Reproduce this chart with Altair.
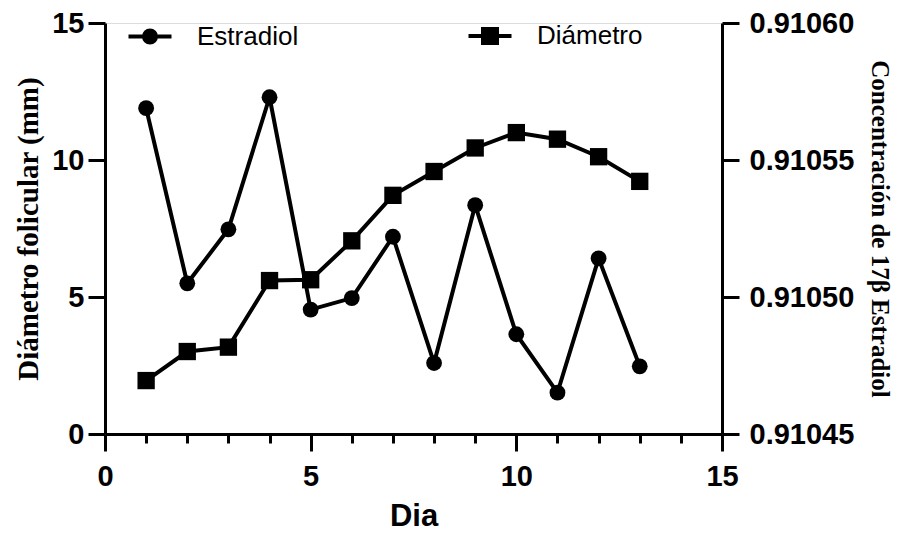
import altair as alt
import pandas as pd

dias = list(range(1, 14))
diametro = [1.95, 3.01, 3.17, 5.60, 5.63, 7.05, 8.71, 9.58, 10.44, 11.00, 10.76, 10.12, 9.22]
estradiol = [0.9105689, 0.9105050, 0.9105247, 0.9105729, 0.9104954, 0.9104996, 0.9105220,
             0.9104759, 0.9105335, 0.9104864, 0.9104651, 0.9105141, 0.9104747]
series = ["Estradiol", "Diámetro"]
x_ticks = list(range(0, 16))
left_ticks = [0, 5, 10, 15]
right_ticks = [0.91045, 0.91050, 0.91055, 0.91060]

df_d = pd.DataFrame({"dia": dias, "v": diametro})
df_e = pd.DataFrame({"dia": dias, "v": estradiol})
df_leg = pd.DataFrame({"serie": series, "dia": [0, 0], "v": [0, 0]})

SANS = "Liberation Sans"
SERIF = "Liberation Serif"

circ_path = "M-2.15,0H2.15M-0.6,0A0.6,0.6 0 1,0 0.6,0A0.6,0.6 0 1,0 -0.6,0Z"
sq_path = "M-2.15,0H2.15M-0.7,-0.7H0.7V0.7H-0.7Z"

x_axis = alt.Axis(
    values=x_ticks,
    labelExpr="datum.value % 5 === 0 ? datum.label : ''",
    tickSize={"condition": {"test": "datum.value % 5 === 0", "value": 17}, "value": 9},
    title="Dia", titleFont=SANS, titleFontSize=31, titleFontWeight="bold", titlePadding=10,
    labelFont=SANS, labelFontSize=29, labelFontWeight="bold", labelPadding=11,
    tickWidth=3, domainWidth=3, grid=False, domainColor="black", tickColor="black",
    labelColor="black", titleColor="black", labelFlush=False,
)
x_enc = alt.X("dia:Q", scale=alt.Scale(domain=[0, 15], nice=False, zero=False), axis=x_axis)

left_axis = alt.Axis(
    values=left_ticks, orient="left",
    title="Diámetro folicular (mm)", titleFont=SERIF, titleFontSize=29, titleFontWeight="bold",
    titlePadding=8, titleColor="black",
    labelFont=SANS, labelFontSize=29, labelFontWeight="bold", labelPadding=4, labelColor="black",
    tickSize=17, tickWidth=3, domainWidth=3, grid=False, domainColor="black", tickColor="black",
)
right_axis = alt.Axis(
    values=right_ticks, orient="right", format=".5f",
    title="Concentración de 17β Estradiol", titleFont=SERIF, titleFontSize=25, titleFontWeight="bold",
    titlePadding=13, titleColor="black",
    labelFont=SANS, labelFontSize=29, labelFontWeight="bold", labelPadding=10, labelColor="black",
    tickSize=17, tickWidth=3, domainWidth=3, grid=False, domainColor="black", tickColor="black",
)

y_left = alt.Y("v:Q", scale=alt.Scale(domain=[0, 15], nice=False), axis=left_axis)
y_right = alt.Y("v:Q", scale=alt.Scale(domain=[0.91045, 0.91060], nice=False, zero=False), axis=right_axis)

line_d = alt.Chart(df_d).mark_line(color="black", strokeWidth=4).encode(x=x_enc, y=y_left)
pts_d = alt.Chart(df_d).mark_point(shape="square", filled=True, color="black", size=300, opacity=1).encode(x=x_enc, y=y_left)

legend_layer = alt.Chart(df_leg).transform_filter("false").mark_point(
    filled=False, color="black", fill="black", strokeWidth=4, opacity=1
).encode(
    x=x_enc, y=y_left,
    shape=alt.Shape("serie:N", scale=alt.Scale(domain=series, range=[circ_path, sq_path]),
                    legend=alt.Legend(
                        title=None, orient="none", legendX=32, legendY=0, direction="horizontal",
                        columns=2, columnPadding=161, symbolSize=400, labelOffset=34,
                        labelFont=SANS, labelFontSize=26, labelColor="black",
                        symbolStrokeWidth=4, padding=0,
                    )),
)

left = alt.layer(line_d, pts_d, legend_layer)

line_e = alt.Chart(df_e).mark_line(color="black", strokeWidth=4).encode(x=x_enc, y=y_right)
pts_e = alt.Chart(df_e).mark_point(shape="circle", filled=True, color="black", size=250, opacity=1).encode(x=x_enc, y=y_right)
right = alt.layer(line_e, pts_e)

chart = alt.layer(left, right).resolve_scale(y="independent").properties(
    width=617, height=411,
    padding={"left": 97, "top": 15, "right": 173, "bottom": 99},
    autosize=alt.AutoSizeParams(type="none"),
).configure_view(stroke=None).configure(background="white")

chart.save("out.html", embed_options={"renderer": "svg", "actions": False})
